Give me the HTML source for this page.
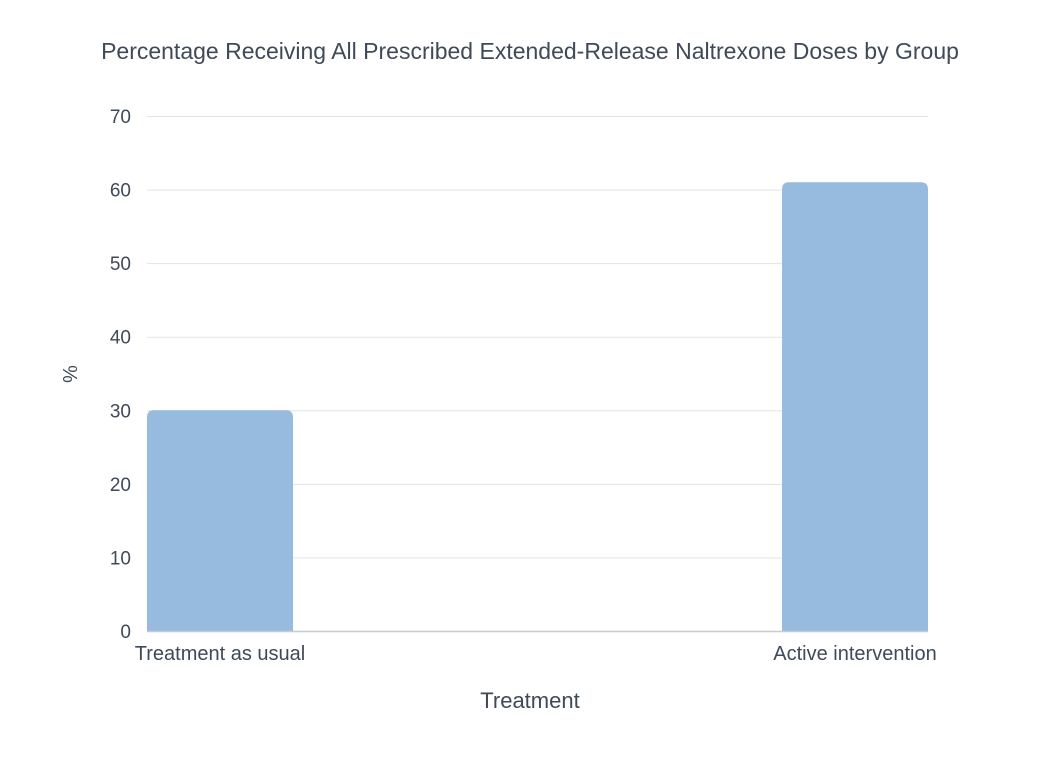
<!DOCTYPE html>
<html><head><meta charset="utf-8"><style>
body{margin:0;background:#fff;}
svg text{font-family:"Liberation Sans",sans-serif;fill:#3f4a58;}
</style></head><body>
<svg width="1060" height="768" xmlns="http://www.w3.org/2000/svg">
<text x="530" y="59" text-anchor="middle" font-size="23">Percentage Receiving All Prescribed Extended-Release Naltrexone Doses by Group</text>
<g id="grid"></g>
<g id="bars"></g>
<g id="xlabels"></g>
<line x1="147" x2="928" y1="631.5" y2="631.5" stroke="#c8ccd2" stroke-width="1.5"/>
<text x="530" y="708" text-anchor="middle" font-size="22">Treatment</text>
<text transform="translate(63,374) rotate(90)" text-anchor="middle" font-size="20">%</text>
</svg>
<script>
const categories=["Treatment as usual","Active intervention"];
const values=[30,61];
const yTicks=[0,10,20,30,40,50,60,70];
const NS="http://www.w3.org/2000/svg";
const x0=147,x1=928,y0=631,yTop=116,yMax=70,barW=146;
const centers=[x0+barW/2,x1-barW/2];
function y(v){return y0-(v/yMax)*(y0-yTop);}
function xc(i){return centers[0]+(centers[1]-centers[0])*i/(categories.length-1);}
const g=document.getElementById('grid');
yTicks.forEach(t=>{
 if(t>0){const l=document.createElementNS(NS,'line');
 
 
 l.setAttribute('x1',x0);l.setAttribute('x2',x1);l.setAttribute('y1',y(t)+0.5);l.setAttribute('y2',y(t)+0.5);
 l.setAttribute('stroke','#e1e3e6');g.appendChild(l);}
 const tx=document.createElementNS(NS,'text');
 
 
 tx.setAttribute('x',131);tx.setAttribute('y',y(t)+7);tx.setAttribute('text-anchor','end');tx.setAttribute('font-size','19');
 tx.textContent=t;g.appendChild(tx);
});
const b=document.getElementById('bars'),xl=document.getElementById('xlabels');
values.forEach((v,i)=>{
 const cx=xc(i),top=y(v),r=7,l=cx-barW/2,rr=cx+barW/2;
 const p=document.createElementNS(NS,'path');
 
 
 p.setAttribute('d',`M${l},${y0}V${top+r}Q${l},${top} ${l+r},${top}H${rr-r}Q${rr},${top} ${rr},${top+r}V${y0}Z`);
 p.setAttribute('fill','#97badf');b.appendChild(p);
 const t=document.createElementNS(NS,'text');
 
 
 t.setAttribute('x',cx);t.setAttribute('y',660);t.setAttribute('text-anchor','middle');t.setAttribute('font-size','20');
 t.textContent=categories[i];xl.appendChild(t);
});
</script>
</body></html>
